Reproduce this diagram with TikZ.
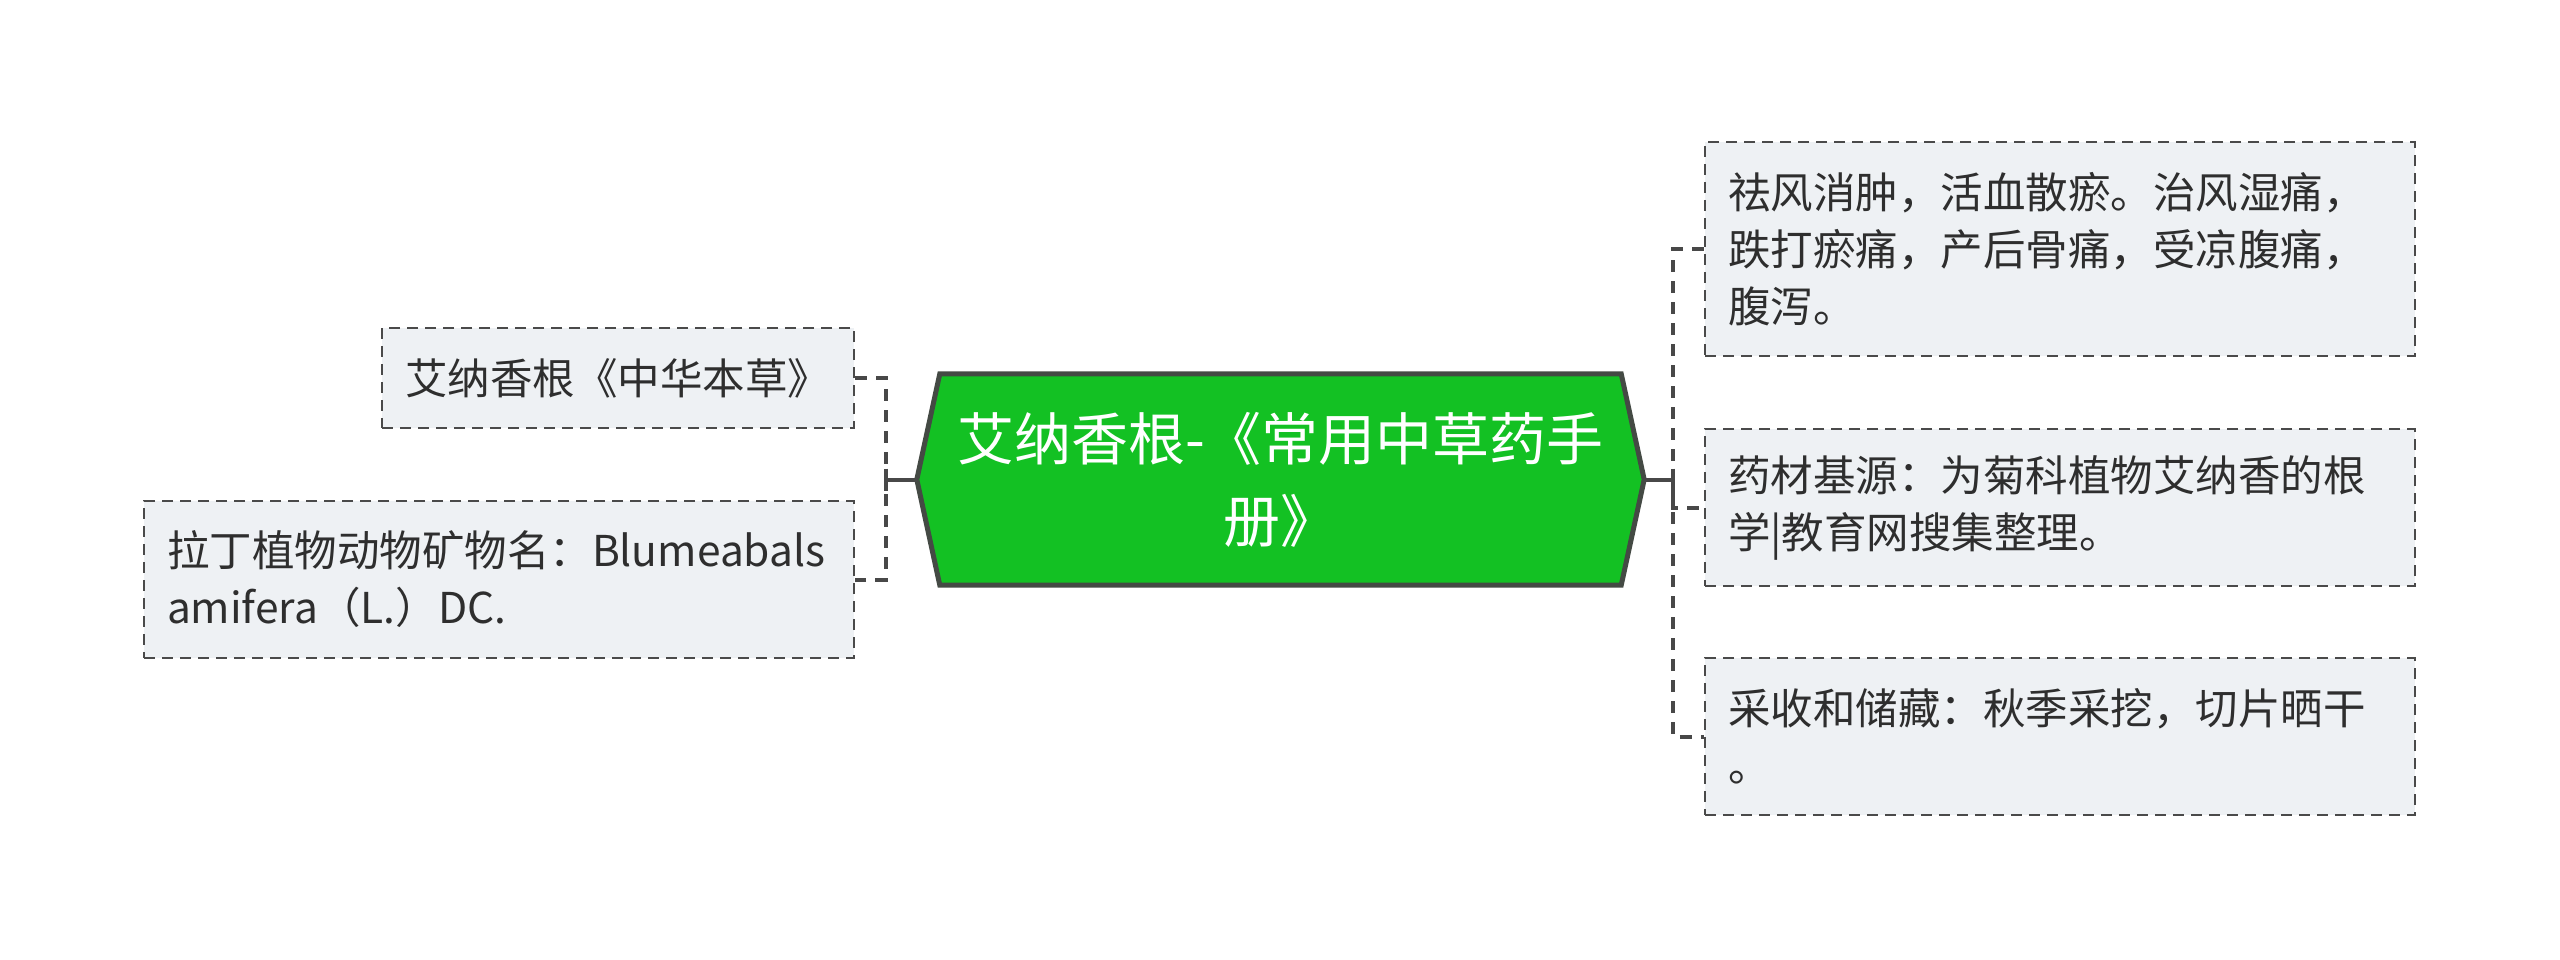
\documentclass[tikz,border=0pt]{standalone}
\usepackage{fontspec}
\setmainfont{Noto Sans CJK SC}
\usetikzlibrary{backgrounds}
\definecolor{boxfill}{HTML}{EEF1F4}
\definecolor{boxline}{HTML}{4A4A4A}
\definecolor{maingreen}{HTML}{13C123}
\definecolor{mainline}{HTML}{444A44}
\definecolor{txt}{HTML}{2E2E2E}
\definecolor{conn}{HTML}{484848}
\tikzset{
  leaf/.style={draw=boxline, fill=boxfill, line width=2.6pt, dash pattern=on 11pt off 7pt,
    inner xsep=23pt, inner ysep=0pt, text width=#1, align=left,
    font=\fontsize{42.5}{57}\selectfont, text=txt},
  centernode/.style={inner sep=0pt, minimum width=727pt, minimum height=211pt,
    text width=680pt, align=center, text=white, font=\fontsize{57}{82}\selectfont},
  solidconn/.style={draw=conn, line width=4pt},
  dashconn/.style={draw=conn, line width=4pt, dash pattern=on 12pt off 9pt},
}
\begin{document}
\begin{tikzpicture}[x=1pt,y=-1pt]
\useasboundingbox (0,0) rectangle (2560,960);
% central node
\node[centernode] (c) at (1280.5,479.5) {艾纳香根-《常用中草药手\\册》};
\begin{scope}[on background layer]
\filldraw[fill=maingreen, draw=mainline, line width=5pt, line join=miter]
  (c.west) -- ([xshift=23pt]c.north west) -- ([xshift=-23pt]c.north east) -- (c.east)
  -- ([xshift=-23pt]c.south east) -- ([xshift=23pt]c.south west) -- cycle;
\end{scope}
% left leaves
\node[leaf=426pt, minimum height=100pt] (l1) at (618,378) {艾纳香根《中华本草》};
\node[leaf=664pt, minimum height=157pt] (l2) at (499,579.5) {拉丁植物动物矿物名：Blumeabals\\amifera（L.）DC.};
% right leaves
\node[leaf=664pt, minimum height=214pt] (r1) at (2060,249) {祛风消肿，活血散瘀。治风湿痛，\\跌打瘀痛，产后骨痛，受凉腹痛，\\腹泻。};
\node[leaf=664pt, minimum height=157pt] (r2) at (2060,507.5) {药材基源：为菊科植物艾纳香的根\\学|教育网搜集整理。};
\node[leaf=664pt, minimum height=157pt] (r3) at (2060,736.5) {采收和储藏：秋季采挖，切片晒干\\。};
% junctions
\coordinate (lj) at (886,479.5);
\coordinate (rj) at (1673,479.5);
% connectors
\draw[solidconn] (c.west) -- (lj);
\draw[solidconn] ([yshift=11pt]lj) -- ([yshift=-11pt]lj);
\draw[dashconn] (l1.east) -| (lj) |- (l2.east);
\draw[solidconn] (c.east) -- (rj);
\draw[solidconn] ([yshift=11pt]rj) -- ([yshift=-11pt]rj);
\draw[dashconn] (r1.west) -| (rj) |- (r3.west);
\draw[dashconn] (rj) |- (r2.west);
\end{tikzpicture}
\end{document}
